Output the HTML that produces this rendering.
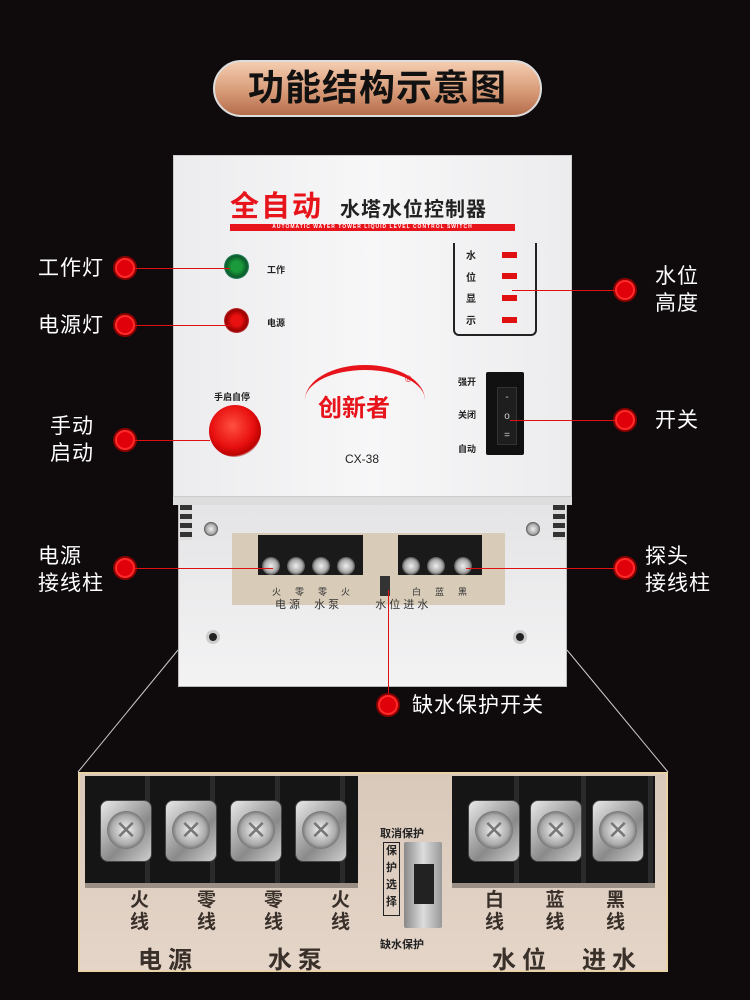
<!DOCTYPE html>
<html><head><meta charset="utf-8"><style>
*{margin:0;padding:0;box-sizing:border-box}
body{width:750px;height:1000px;background:#0f0b0c;position:relative;overflow:hidden;font-family:"Liberation Sans","Noto Sans CJK SC",sans-serif}
.a{position:absolute}
.lbl{position:absolute;color:#fff;font-size:21px;line-height:27px;letter-spacing:1px}
.dot{position:absolute;width:20px;height:20px;border-radius:50%;background:#e0000a;border:2px solid #ff2a2a;box-shadow:0 0 0 2px #8a0000}
.ln{position:absolute;height:1px;background:#e01010}
.scr{position:absolute;border-radius:50%;background:radial-gradient(circle,#eee 0,#aaa 50%,#555 70%,#222 100%)}
.sq{position:absolute;width:52px;height:62px;border-radius:8px;background:linear-gradient(135deg,#e8e8e8,#8a8a8a 60%,#cfcfcf);border:1px solid #444}
.sq::after{content:"";position:absolute;left:6px;top:10px;width:38px;height:38px;border-radius:50%;background:radial-gradient(circle,#f2f2f2 0,#aaa 55%,#555 80%,#222 100%)}
.sq::before{content:"✕";position:absolute;left:0;top:14px;width:50px;text-align:center;font-size:26px;color:#777;z-index:1}
.t{position:absolute;font-size:9px;font-weight:bold;color:#222}
.bt{color:#3a302a;font-weight:bold}
</style></head><body>
<!-- title -->
<div class="a" style="left:213px;top:60px;width:329px;height:57px;border-radius:29px;border:2px solid #ddd;background:linear-gradient(#f4cdb0,#d89b78 55%,#b56d4c);"></div>
<div class="a" style="left:213px;top:63px;width:329px;text-align:center;font-size:36px;line-height:50px;color:#111;letter-spacing:1px;font-weight:bold">功能结构示意图</div>

<svg class="a" style="left:0;top:0" width="750" height="1000"><line x1="178" y1="650" x2="78" y2="772" stroke="#ccc" stroke-width="1"/><line x1="567" y1="650" x2="668" y2="772" stroke="#ccc" stroke-width="1"/></svg>

<!-- lower box -->
<div class="a" style="left:178px;top:497px;width:389px;height:190px;background:linear-gradient(#e4e4e6,#f3f3f4);border:1px solid #bbb"></div>
<div class="a" style="left:180px;top:505px;width:12px;height:35px;background:repeating-linear-gradient(#333 0 5px,#ddd 5px 9px)"></div>
<div class="a" style="left:553px;top:505px;width:12px;height:35px;background:repeating-linear-gradient(#333 0 5px,#ddd 5px 9px)"></div>
<div class="a" style="left:232px;top:533px;width:273px;height:72px;background:#d8cbb8"></div>
<div class="a" style="left:258px;top:535px;width:105px;height:40px;background:#1a1a1a"></div>
<div class="a" style="left:398px;top:535px;width:84px;height:40px;background:#1a1a1a"></div>
<div class="scr" style="left:262px;top:557px;width:18px;height:18px"></div>
<div class="scr" style="left:287px;top:557px;width:18px;height:18px"></div>
<div class="scr" style="left:312px;top:557px;width:18px;height:18px"></div>
<div class="scr" style="left:337px;top:557px;width:18px;height:18px"></div>
<div class="scr" style="left:402px;top:557px;width:18px;height:18px"></div>
<div class="scr" style="left:427px;top:557px;width:18px;height:18px"></div>
<div class="scr" style="left:454px;top:557px;width:18px;height:18px"></div>
<div class="a" style="left:380px;top:576px;width:10px;height:20px;background:#333"></div>
<div class="a" style="left:272px;top:585px;font-size:9px;color:#333;letter-spacing:14px">火零零火</div>
<div class="a" style="left:412px;top:585px;font-size:9px;color:#333;letter-spacing:14px">白蓝黑</div>
<div class="a" style="left:275px;top:596px;font-size:11px;color:#333">电 源 　水 泵　 　　水 位 进 水</div>
<div class="scr" style="left:204px;top:522px;width:14px;height:14px"></div>
<div class="scr" style="left:526px;top:522px;width:14px;height:14px"></div>
<div class="a" style="left:206px;top:630px;width:14px;height:14px;border-radius:50%;background:#222;border:3px solid #ccc"></div>
<div class="a" style="left:513px;top:630px;width:14px;height:14px;border-radius:50%;background:#222;border:3px solid #ccc"></div>

<!-- front panel -->
<div class="a" style="left:173px;top:155px;width:399px;height:342px;background:linear-gradient(90deg,#ececee,#f7f7f8 50%,#ececee);border:1px solid #ccc"></div>
<div class="a" style="left:230px;top:190px;font-size:29px;font-weight:bold;color:#e8141b;letter-spacing:2px;line-height:34px">全自动</div>
<div class="a" style="left:340px;top:197px;font-size:20px;font-weight:bold;color:#222;line-height:26px;letter-spacing:1px">水塔水位控制器</div>
<div class="a" style="left:230px;top:224px;width:285px;height:7px;background:#e8141b;color:#fff;font-size:5px;line-height:7px;text-align:center;letter-spacing:1px;font-weight:bold">AUTOMATIC WATER TOWER LIQUID LEVEL CONTROL SWITCH</div>
<div class="a" style="left:224px;top:254px;width:25px;height:25px;border-radius:50%;background:radial-gradient(circle,#1a9a3a 30%,#0a5a2a 60%,#3a9a7a 75%,#ddd 100%)"></div>
<div class="a" style="left:224px;top:308px;width:25px;height:25px;border-radius:50%;background:radial-gradient(circle,#e81010 30%,#900 60%,#c44 75%,#ddd 100%)"></div>
<div class="t" style="left:267px;top:263px">工作</div>
<div class="t" style="left:267px;top:316px">电源</div>
<div class="a" style="left:453px;top:243px;width:84px;height:93px;border:2px solid #222;border-top:none;border-radius:0 0 6px 6px"></div>
<div class="t" style="left:466px;top:246px;font-size:10px;line-height:21.5px">水<br>位<br>显<br>示</div>
<div class="a" style="left:502px;top:252px;width:15px;height:6px;background:#e01010;box-shadow:0 21px 0 #e01010,0 43px 0 #e01010,0 65px 0 #e01010"></div>
<div class="a" style="left:305px;top:365px;width:120px;height:70px;border-top:5px solid #e8141b;border-radius:50%"></div>
<div class="a" style="left:318px;top:388px;font-size:24px;font-weight:bold;color:#e8141b">创新者</div>
<div class="a" style="left:405px;top:374px;font-size:9px;color:#e8141b">®</div>
<div class="a" style="left:345px;top:452px;font-size:12px;color:#222">CX-38</div>
<div class="t" style="left:458px;top:375px">强开</div>
<div class="t" style="left:458px;top:408px">关闭</div>
<div class="t" style="left:458px;top:442px">自动</div>
<div class="a" style="left:486px;top:372px;width:38px;height:83px;background:#111;border-radius:2px"></div>
<div class="a" style="left:497px;top:387px;width:20px;height:58px;background:#1e1e1e;border:1px solid #333;color:#ccc;font-size:10px;text-align:center;line-height:19px">-<br>o<br>=</div>
<div class="t" style="left:214px;top:390px">手启自停</div>
<div class="a" style="left:209px;top:405px;width:52px;height:52px;border-radius:50%;background:radial-gradient(circle at 45% 40%,#ff5040 0,#e81010 50%,#b00 70%,#ddd 75%,#aaa 100%)"></div>
<div class="a" style="left:173px;top:497px;width:399px;height:8px;background:#ddd"></div>

<!-- labels -->
<div class="lbl" style="left:38px;top:255px">工作灯</div><div class="dot" style="left:115px;top:258px"></div><div class="ln" style="left:135px;top:268px;width:95px"></div>
<div class="lbl" style="left:38px;top:312px">电源灯</div><div class="dot" style="left:115px;top:315px"></div><div class="ln" style="left:135px;top:325px;width:95px"></div>
<div class="lbl" style="left:50px;top:413px">手动<br>启动</div><div class="dot" style="left:115px;top:430px"></div><div class="ln" style="left:135px;top:440px;width:75px"></div>
<div class="lbl" style="left:38px;top:543px">电源<br>接线柱</div><div class="dot" style="left:115px;top:558px"></div><div class="ln" style="left:135px;top:568px;width:138px"></div>
<div class="lbl" style="left:655px;top:263px">水位<br>高度</div><div class="dot" style="left:615px;top:280px"></div><div class="ln" style="left:512px;top:290px;width:103px"></div>
<div class="lbl" style="left:655px;top:407px">开关</div><div class="dot" style="left:615px;top:410px"></div><div class="ln" style="left:510px;top:420px;width:105px"></div>
<div class="lbl" style="left:645px;top:543px">探头<br>接线柱</div><div class="dot" style="left:615px;top:558px"></div><div class="ln" style="left:466px;top:568px;width:149px"></div>
<div class="a" style="left:388px;top:590px;width:1px;height:105px;background:#e01010"></div>
<div class="dot" style="left:378px;top:695px"></div><div class="lbl" style="left:412px;top:692px">缺水保护开关</div>

<!-- bottom photo -->
<div class="a" style="left:78px;top:772px;width:590px;height:200px;background:linear-gradient(#d9c9bb,#e4d5c8);border:2px solid #e8d3a8"></div>
<div class="a" style="left:85px;top:776px;width:273px;height:112px;background:repeating-linear-gradient(90deg,#151515 0 60px,#2a2a2a 60px 65px);border-bottom:5px solid #9a8f85"></div>
<div class="a" style="left:452px;top:776px;width:203px;height:112px;background:repeating-linear-gradient(90deg,#151515 0 62px,#2a2a2a 62px 67px);border-bottom:5px solid #9a8f85"></div>
<div class="sq" style="left:100px;top:800px"></div>
<div class="sq" style="left:165px;top:800px"></div>
<div class="sq" style="left:230px;top:800px"></div>
<div class="sq" style="left:295px;top:800px"></div>
<div class="sq" style="left:468px;top:800px"></div>
<div class="sq" style="left:530px;top:800px"></div>
<div class="sq" style="left:592px;top:800px"></div>
<div class="a" style="left:380px;top:825px;font-size:11px;font-weight:bold;color:#222">取消保护</div>
<div class="a" style="left:383px;top:842px;width:17px;height:74px;border:1px solid #222;font-size:11px;font-weight:bold;line-height:17px;color:#222;text-align:center">保护选择</div>
<div class="a" style="left:404px;top:842px;width:38px;height:86px;background:linear-gradient(90deg,#888,#ddd,#999);border-radius:2px"></div>
<div class="a" style="left:414px;top:864px;width:20px;height:40px;background:#222"></div>
<div class="a" style="left:380px;top:936px;font-size:11px;font-weight:bold;color:#222">缺水保护</div>
<div class="a bt" style="left:130px;top:890px;width:220px;font-size:19px;line-height:22px;display:flex;justify-content:space-between"><span>火<br>线</span><span>零<br>线</span><span>零<br>线</span><span>火<br>线</span></div>
<div class="a bt" style="left:485px;top:890px;width:140px;font-size:19px;line-height:22px;display:flex;justify-content:space-between"><span>白<br>线</span><span>蓝<br>线</span><span>黑<br>线</span></div>
<div class="a bt" style="left:138px;top:940px;font-size:24px;letter-spacing:6px">电源</div>
<div class="a bt" style="left:268px;top:940px;font-size:24px;letter-spacing:6px">水泵</div>
<div class="a bt" style="left:492px;top:940px;font-size:24px;letter-spacing:6px">水位</div>
<div class="a bt" style="left:582px;top:940px;font-size:24px;letter-spacing:6px">进水</div>
</body></html>
